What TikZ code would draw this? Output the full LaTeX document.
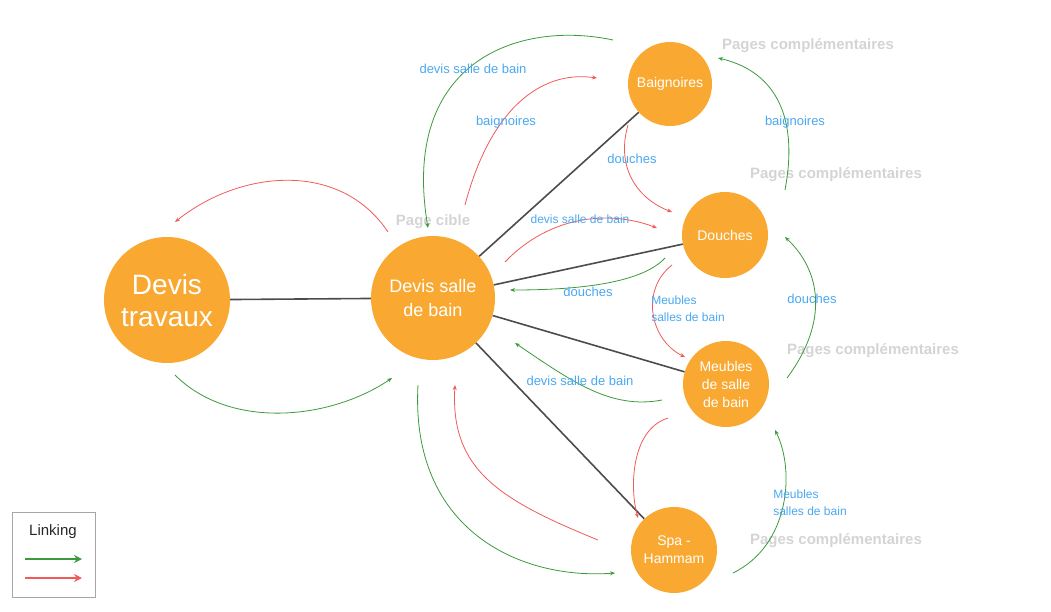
\documentclass[tikz,border=0pt]{standalone}
\usepackage{fontspec}
\setmainfont{Liberation Sans}
\usetikzlibrary{arrows.meta}
\definecolor{org}{HTML}{F9A932}
\definecolor{grn}{HTML}{3C9A3C}
\definecolor{rd}{HTML}{EF5A5A}
\definecolor{lbl}{HTML}{4AA8F0}
\definecolor{pg}{HTML}{D4D4D4}
\begin{document}
\begin{tikzpicture}[x=1pt,y=-1pt,
  circ/.style={circle,fill=org,text=white,align=center,inner sep=0pt},
  link/.style={draw=gray!60!black,line width=1.6pt},
  ga/.style={draw=grn,line width=0.8pt,-{Stealth[length=5pt,width=4pt]}},
  ra/.style={draw=rd,line width=0.8pt,-{Stealth[length=5pt,width=4pt]}},
  lb/.style={text=lbl,font=\fontsize{13}{14}\selectfont,align=left,inner sep=0pt},
  pc/.style={text=pg,font=\bfseries\fontsize{15}{16}\selectfont,inner sep=0pt}]
\useasboundingbox (0,0) rectangle (1051,611);
\node[circ,minimum size=126pt,font=\fontsize{28}{32}\selectfont] (dt) at (167,300) {Devis\\travaux};
\node[circ,minimum size=124pt,font=\fontsize{18}{24}\selectfont] (dsb) at (433,298) {Devis salle\\de bain};
\node[circ,minimum size=84pt,font=\fontsize{14}{16}\selectfont] (ba) at (670,84) {Baignoires};
\node[circ,minimum size=86pt,font=\fontsize{14}{16}\selectfont] (do) at (725,235) {Douches};
\node[circ,minimum size=86pt,font=\fontsize{14}{18}\selectfont] (me) at (726,384) {Meubles\\de salle\\de bain};
\node[circ,minimum size=86pt,font=\fontsize{14}{18}\selectfont] (sp) at (674,550) {Spa -\\Hammam};
\draw[link] (dt) -- (dsb);
\foreach \t in {ba,do,me,sp} \draw[link] (dsb) -- (\t);
\node[pc] (p1) at (808,46) {Pages complémentaires};
\node[pc] (p2) at (836,175) {Pages complémentaires};
\node[pc] (p3) at (873,351) {Pages complémentaires};
\node[pc] (p4) at (836,541) {Pages complémentaires};
\node[pc] (pcib) at (433,222) {Page cible};
% green
\coordinate (g1a) at (175,375); \coordinate (g1b) at (392,378);
\draw[ga] (g1a) .. controls (230,430) and (330,420) .. (g1b);
\coordinate (g2a) at (613,40); \coordinate (g2b) at (428,228);
\draw[ga] (g2a) .. controls (520,20) and (400,60) .. (g2b);
\coordinate (g3a) at (785,190); \coordinate (g3b) at (718,58);
\draw[ga] (g3a) .. controls (800,110) and (770,70) .. (g3b);
\coordinate (g4a) at (665,258); \coordinate (g4b) at (510,290);
\draw[ga] (g4a) .. controls (640,285) and (570,290) .. (g4b);
\coordinate (g5a) at (787,378); \coordinate (g5b) at (785,237);
\draw[ga] (g5a) .. controls (830,320) and (820,270) .. (g5b);
\coordinate (g6a) at (662,400); \coordinate (g6b) at (515,343);
\draw[ga] (g6a) .. controls (610,410) and (570,380) .. (g6b);
\coordinate (g7a) at (418,385); \coordinate (g7b) at (615,573);
\draw[ga] (g7a) .. controls (410,530) and (520,580) .. (g7b);
\coordinate (g8a) at (733,573); \coordinate (g8b) at (775,430);
\draw[ga] (g8a) .. controls (790,545) and (795,470) .. (g8b);
% red
\coordinate (r1a) at (388,232); \coordinate (r1b) at (175,222);
\draw[ra] (r1a) .. controls (340,160) and (240,170) .. (r1b);
\coordinate (r2a) at (465,205); \coordinate (r2b) at (597,78);
\draw[ra] (r2a) .. controls (490,110) and (540,70) .. (r2b);
\coordinate (r3a) at (628,125); \coordinate (r3b) at (672,212);
\draw[ra] (r3a) .. controls (615,170) and (640,200) .. (r3b);
\coordinate (r4a) at (505,262); \coordinate (r4b) at (657,228);
\draw[ra] (r4a) .. controls (550,215) and (610,210) .. (r4b);
\coordinate (r5a) at (672,265); \coordinate (r5b) at (685,357);
\draw[ra] (r5a) .. controls (640,290) and (650,340) .. (r5b);
\coordinate (r6a) at (668,418); \coordinate (r6b) at (638,518);
\draw[ra] (r6a) .. controls (630,430) and (630,490) .. (r6b);
\coordinate (r7a) at (598,540); \coordinate (r7b) at (455,385);
\draw[ra] (r7a) .. controls (500,500) and (450,470) .. (r7b);
% labels
\node[lb] (l1) at (473,69) {devis salle de bain};
\node[lb] (l2) at (506,122) {baignoires};
\node[lb] (l3) at (795,122) {baignoires};
\node[lb] (l4) at (632,159) {douches};
\node[lb,font=\fontsize{12}{13}\selectfont] (l5) at (580,219) {devis salle de bain};
\node[lb] (l6) at (588,292) {douches};
\node[lb] (l7) at (812,299) {douches};
\node[lb,font=\fontsize{12}{17}\selectfont] (l8) at (688,309) {Meubles\\salles de bain};
\node[lb] (l9) at (580,381) {devis salle de bain};
\node[lb,font=\fontsize{12}{17}\selectfont] (l10) at (810,503) {Meubles\\salles de bain};
% legend
\node[draw=gray!70,minimum width=83pt,minimum height=85pt,inner sep=0pt] (leg) at (53.5,554.5) {};
\node[font=\fontsize{15}{16}\selectfont,text=gray!30!black] (lt) at (53,532) {Linking};
\coordinate (la1) at (25,559); \coordinate (la2) at (82,559);
\coordinate (lr1) at (25,578); \coordinate (lr2) at (82,578);
\draw[draw=grn,line width=2pt,-{Stealth[length=8pt,width=8pt]}] (la1) -- (la2);
\draw[draw=rd,line width=2pt,-{Stealth[length=8pt,width=8pt]}] (lr1) -- (lr2);
\end{tikzpicture}
\end{document}
